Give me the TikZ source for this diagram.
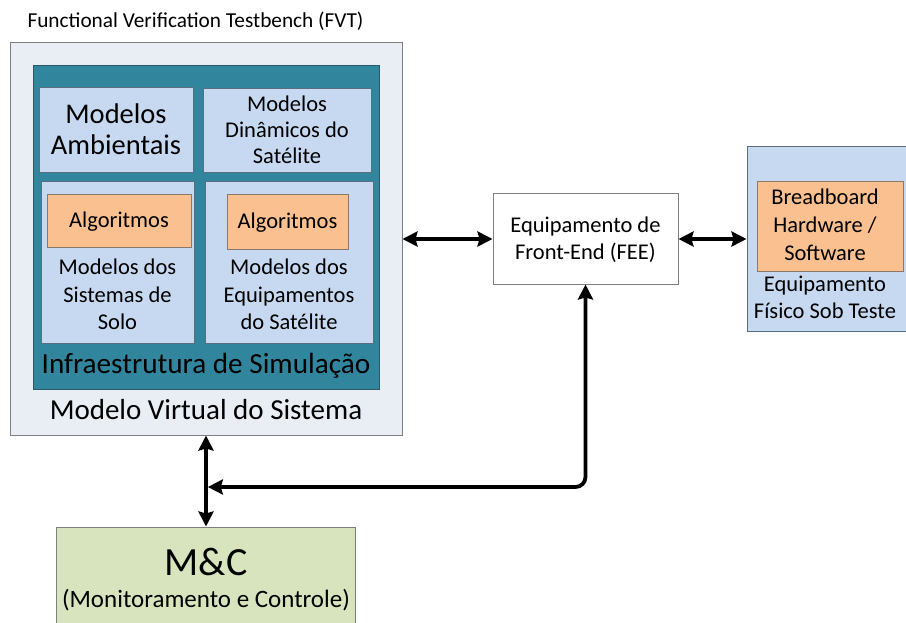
\documentclass[tikz,border=0pt]{standalone}
\usepackage{fontspec}
\setmainfont{Carlito}
\usetikzlibrary{arrows.meta}

\definecolor{fvtfill}{HTML}{E9EDF4}
\definecolor{frame}{HTML}{7F7F7F}
\definecolor{tealfill}{HTML}{31859C}
\definecolor{tealline}{HTML}{2A5A68}
\definecolor{bluefill}{HTML}{C6D9F1}
\definecolor{blueline}{HTML}{5A6E80}
\definecolor{orangefill}{HTML}{FAC090}
\definecolor{orangeline}{HTML}{8A7868}
\definecolor{greenfill}{HTML}{D7E4BD}

\newcommand{\fs}[1]{\fontsize{#1}{1.3\dimexpr#1pt\relax}\selectfont}

\tikzset{
  box/.style={rectangle, inner sep=0pt, line width=1pt, align=center},
  txt/.style={inner sep=0pt, align=center, text=black},
  link/.style={line width=3.8pt,
    {Stealth[length=15pt,width=15pt,inset=2pt]}-{Stealth[length=15pt,width=15pt,inset=2pt]}},
}

\begin{document}
\begin{tikzpicture}[x=1pt,y=-1pt]
\useasboundingbox (0,0) rectangle (906,623);

% titles and enclosing frames
\node[txt, anchor=base] (title) at (195.5,28) {\fs{21.3}Functional Verification Testbench (FVT)};
\node[box, draw=frame, fill=fvtfill, minimum width=392pt, minimum height=392pt] (fvt) at (206,239) {};
\node[box, draw=tealline, fill=tealfill, minimum width=346pt, minimum height=323pt] (infra) at (206,227.5) {};

% model blocks
\node[box, draw=blueline, fill=bluefill, minimum width=154pt, minimum height=85pt] (amb) at (116,130.5) {};
\node[txt, anchor=base] (ambA) at (116,124) {\fs{28.5}Modelos};
\node[txt, anchor=base] (ambB) at (116,155) {\fs{28.5}Ambientais};
\node[box, draw=blueline, fill=bluefill, minimum width=168pt, minimum height=84pt] (din) at (287,131) {};
\node[txt, anchor=base] (dinA) at (287,111.5) {\fs{22.5}Modelos};
\node[txt, anchor=base] (dinB) at (287,138) {\fs{22.5}Dinâmicos do};
\node[txt, anchor=base] (dinC) at (287,164) {\fs{22.5}Satélite};
\node[box, draw=blueline, fill=bluefill, minimum width=153pt, minimum height=161pt] (solo) at (117.5,262.5) {};
\node[box, draw=blueline, fill=bluefill, minimum width=168pt, minimum height=161pt] (equip) at (289,262.5) {};
\node[box, draw=orangeline, fill=orangefill, minimum width=144pt, minimum height=53pt] (algoA) at (119,221.5) {};
\node[txt, anchor=base] (algoAt) at (119,228) {\fs{22.5}Algoritmos};
\node[box, draw=orangeline, fill=orangefill, minimum width=121pt, minimum height=55pt] (algoB) at (287.5,222.5) {};
\node[txt, anchor=base] (algoBt) at (287.5,229) {\fs{22.5}Algoritmos};
\node[txt, anchor=base] (soloA) at (117.5,275) {\fs{22.5}Modelos dos};
\node[txt, anchor=base] (soloB) at (117.5,302) {\fs{22.5}Sistemas de};
\node[txt, anchor=base] (soloC) at (117.5,329) {\fs{22.5}Solo};
\node[txt, anchor=base] (equipA) at (289,275) {\fs{22.5}Modelos dos};
\node[txt, anchor=base] (equipB) at (289,302) {\fs{22.5}Equipamentos};
\node[txt, anchor=base] (equipC) at (289,329) {\fs{22.5}do Satélite};
\node[txt, anchor=base] (infralbl) at (206,373) {\fs{29.2}Infraestrutura de Simulação};
\node[txt, anchor=base] (fvtlbl) at (206,419) {\fs{29}Modelo Virtual do Sistema};

% front-end equipment
\node[box, draw=frame, fill=white, minimum width=185pt, minimum height=90pt] (fee) at (585.5,239) {};
\node[txt, anchor=base] (feeA) at (585.5,233) {\fs{22.5}Equipamento de};
\node[txt, anchor=base] (feeB) at (585.5,260) {\fs{22.5}Front-End (FEE)};

% equipment under test
\node[box, draw=blueline, fill=bluefill, minimum width=170pt, minimum height=184pt] (dut) at (832,239) {};
\node[box, draw=orangeline, fill=orangefill, minimum width=146pt, minimum height=89pt] (bread) at (830,226.5) {};
\node[txt, anchor=base] (breadA) at (825,205) {\fs{22.5}Breadboard};
\node[txt, anchor=base] (breadB) at (825,233) {\fs{22.5}Hardware /};
\node[txt, anchor=base] (breadC) at (825,261) {\fs{22.5}Software};
\node[txt, anchor=base] (dutA) at (825,291) {\fs{22.5}Equipamento};
\node[txt, anchor=base] (dutB) at (825,318) {\fs{22.5}Físico Sob Teste};

% monitoring and control
\node[box, draw=frame, fill=greenfill, minimum width=299pt, minimum height=110pt] (mc) at (206,582) {};
\node[txt, anchor=base] (mcA) at (206,575) {\fs{40}M\&C};
\node[txt, anchor=base] (mcB) at (206,607) {\fs{25}(Monitoramento e Controle)};

% connectors
\coordinate (join) at (207.8,487);
\draw[link] (fvt.east |- fee.west) -- (fee.west);
\draw[link] (fee.east) -- (dut.west);
\draw[link] (fvt.south) -- (fvt.south |- mc.north);
\draw[link, rounded corners=10pt] (fee.south) |- (join);
\end{tikzpicture}
\end{document}
